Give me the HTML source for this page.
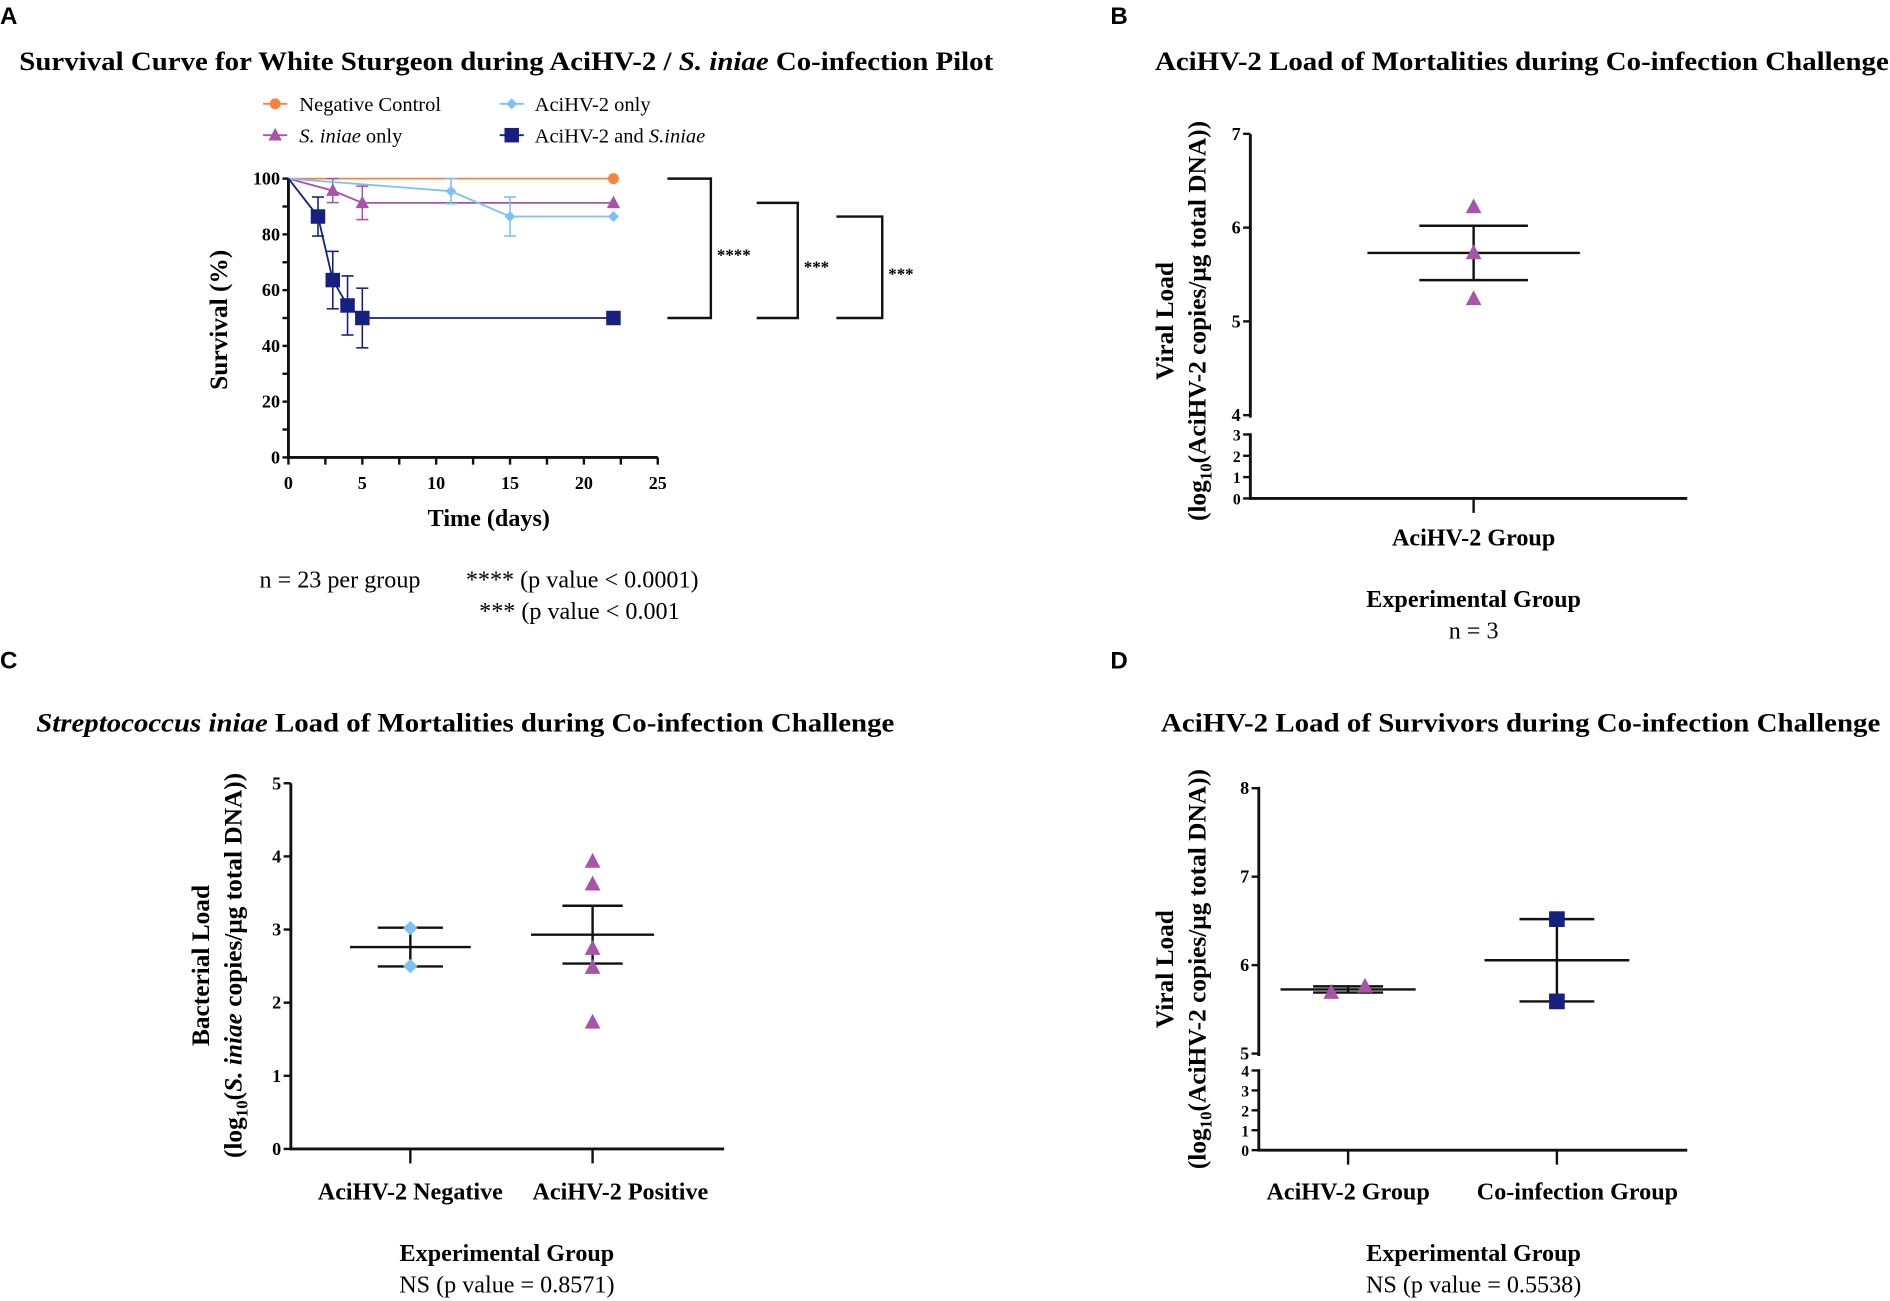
<!DOCTYPE html>
<html><head><meta charset="utf-8">
<style>
html,body{margin:0;padding:0;background:#fff;}
svg{display:block;font-family:"Liberation Serif",serif;}
.t{font-weight:bold;}
.pl{font-family:"Liberation Sans",sans-serif;font-weight:bold;font-size:20px;}
</style></head>
<body>
<svg id="fig" width="1890" height="1301" viewBox="0 0 1566 1078" preserveAspectRatio="none" xmlns="http://www.w3.org/2000/svg">
<rect width="1566" height="1078" fill="#fff"/>
<text class="pl" x="0" y="20">A</text>
<text class="pl" x="920" y="20">B</text>
<text class="pl" x="0" y="554">C</text>
<text class="pl" x="920" y="554">D</text>
<text class="t" x="16" y="58" font-size="22" textLength="807" lengthAdjust="spacingAndGlyphs">Survival Curve for White Sturgeon during AciHV-2 / <tspan font-style="italic">S. iniae</tspan> Co-infection Pilot</text>
<text class="t" x="957" y="58" font-size="22" textLength="608" lengthAdjust="spacingAndGlyphs">AciHV-2 Load of Mortalities during Co-infection Challenge</text>
<text class="t" x="30" y="606" font-size="22" textLength="711" lengthAdjust="spacingAndGlyphs"><tspan font-style="italic">Streptococcus iniae</tspan> Load of Mortalities during Co-infection Challenge</text>
<text class="t" x="962" y="606" font-size="22" textLength="596" lengthAdjust="spacingAndGlyphs">AciHV-2 Load of Survivors during Co-infection Challenge</text>
<g font-size="17">
<text x="248" y="92">Negative Control</text>
<text x="443" y="92">AciHV-2 only</text>
<text x="248" y="118"><tspan font-style="italic">S. iniae</tspan> only</text>
<text x="443" y="118">AciHV-2 and <tspan font-style="italic">S.iniae</tspan></text>
</g>
<text class="t" x="405" y="436" font-size="20" text-anchor="middle">Time (days)</text>
<text class="t" transform="translate(188,265) rotate(-90)" font-size="21" text-anchor="middle">Survival (%)</text>
<g font-size="20">
<text x="215" y="487">n = 23 per group</text>
<text x="386" y="487">**** (p value &lt; 0.0001)</text>
<text x="397" y="513">*** (p value &lt; 0.001</text>
</g>
<text class="t" x="1221" y="452" font-size="20" text-anchor="middle">AciHV-2 Group</text>
<text class="t" x="1221" y="503" font-size="20" text-anchor="middle">Experimental Group</text>
<text x="1221" y="529" font-size="20" text-anchor="middle">n = 3</text>
<text class="t" transform="translate(972,266) rotate(-90)" font-size="21" text-anchor="middle">Viral Load</text>
<text class="t" transform="translate(999,266) rotate(-90)" font-size="21" text-anchor="middle">(log<tspan font-size="14" dy="5">10</tspan><tspan dy="-5">(AciHV-2 copies/μg total DNA))</tspan></text>
<text class="t" x="340" y="994" font-size="20" text-anchor="middle">AciHV-2 Negative</text>
<text class="t" x="514" y="994" font-size="20" text-anchor="middle">AciHV-2 Positive</text>
<text class="t" x="420" y="1045" font-size="20" text-anchor="middle">Experimental Group</text>
<text x="420" y="1071" font-size="20" text-anchor="middle">NS (p value = 0.8571)</text>
<text class="t" transform="translate(173,800) rotate(-90)" font-size="21" text-anchor="middle">Bacterial Load</text>
<text class="t" transform="translate(200,800) rotate(-90)" font-size="21" text-anchor="middle">(log<tspan font-size="14" dy="5">10</tspan><tspan dy="-5">(</tspan><tspan font-style="italic">S. iniae</tspan> copies/μg total DNA))</text>
<text class="t" x="1117" y="994" font-size="20" text-anchor="middle">AciHV-2 Group</text>
<text class="t" x="1307" y="994" font-size="20" text-anchor="middle">Co-infection Group</text>
<text class="t" x="1221" y="1045" font-size="20" text-anchor="middle">Experimental Group</text>
<text x="1221" y="1071" font-size="20" text-anchor="middle">NS (p value = 0.5538)</text>
<text class="t" transform="translate(972,803) rotate(-90)" font-size="21" text-anchor="middle">Viral Load</text>
<text class="t" transform="translate(999,803) rotate(-90)" font-size="21" text-anchor="middle">(log<tspan font-size="14" dy="5">10</tspan><tspan dy="-5">(AciHV-2 copies/μg total DNA))</tspan></text>
<g id="marks"></g>
</svg>
<script>
const daysNeg = [0, 22];
const survNeg = [100, 100];
const daysAci = [0, 11, 15, 22];
const survAci = [100, 95.5, 86.4, 86.4];
const errAci = [0, 4.5, 7, 0];
const daysSin = [0, 3, 5, 22];
const survSin = [100, 95.7, 91.3, 91.3];
const errSin = [0, 4.3, 6, 0];
const daysCo = [0, 2, 3, 4, 5, 22];
const survCo = [100, 86.4, 63.6, 54.5, 50, 50];
const errCo = [0, 7, 10.3, 10.6, 10.7, 0];
const yTicksA = [0, 20, 40, 60, 80, 100];
const xTicksA = [0, 5, 10, 15, 20, 25];
const sigLabels = ["****", "***", "***"];
const viralMort = [6.22, 5.73, 5.24];
const viralMortMean = [5.73];
const viralMortSem = [0.29];
const yTicksBHigh = [4, 5, 6, 7];
const yTicksBLow = [0, 1, 2, 3];
const bactNeg = [3.02, 2.50];
const bactPos = [3.93, 3.62, 2.74, 2.48, 1.73];
const bactMeans = [2.76, 2.93];
const bactSems = [0.265, 0.395];
const yTicksC = [0, 1, 2, 3, 4, 5];
const survAciVals = [5.69, 5.76];
const survCoVals = [6.52, 5.59];
const survMeans = [5.725, 6.055];
const survSems = [0.035, 0.465];
const yTicksDHigh = [5, 6, 7, 8];
const yTicksDLow = [0, 1, 2, 3, 4];

const NS = "http://www.w3.org/2000/svg";
const root = document.getElementById('marks');
function mk(tag, attrs, parent) {
  const e = document.createElementNS(NS, tag);
  for (const k in attrs) e.setAttribute(k, attrs[k]);
  (parent || root).appendChild(e);
  return e;
}
function line(x1, y1, x2, y2, color, w, name) {
  const e = mk('line', {x1, y1, x2, y2, stroke: color, 'stroke-width': w});
  
  
  return e;
}
function txt(x, y, s, size, anchor, name, bold) {
  const e = mk('text', {x, y, 'font-size': size, 'text-anchor': anchor, 'font-weight': bold ? 'bold' : 'normal'});
  e.textContent = s;
  
  
  return e;
}
function marker(type, x, y, s, color, name) {
  let e;
  if (type === 'circle') e = mk('circle', {cx: x, cy: y, r: s / 2, fill: color});
  else if (type === 'square') e = mk('rect', {x: x - s / 2, y: y - s / 2, width: s, height: s, fill: color});
  else if (type === 'diamond') e = mk('polygon', {points: `${x},${y - s / 2} ${x + s / 2},${y} ${x},${y + s / 2} ${x - s / 2},${y}`, fill: color});
  else e = mk('polygon', {points: `${x},${y - s * 0.55} ${x + s / 2},${y + s * 0.4} ${x - s / 2},${y + s * 0.4}`, fill: color});
  
  
  return e;
}
const K = '#111';
const ORANGE = '#f7833f', LBLUE = '#7ec0f7', PURPLE = '#a855a8', NAVY = '#16207f';

const xA = d => 239 + d * 12.24;
const yA = v => 379 - v * 2.31;
line(xA(0), yA(0) + 1.2, xA(0), yA(100), K, 2.4, 'y-axis-a');
line(xA(0) - 1.2, yA(0), xA(25), yA(0), K, 2.4, 'x-axis-a');
for (let v = 0; v <= 100; v += 10) line(xA(0) - 5, yA(v), xA(0), yA(v), K, 2, 'y-tick-a');
yTicksA.forEach(v => txt(xA(0) - 7, yA(v) + 5, String(v), 15, 'end', 'y-tick-label-a', true));
for (let d = 0; d <= 25; d += 2.5) line(xA(d), yA(0), xA(d), yA(0) + 6, K, 2, 'x-tick-a');
xTicksA.forEach(d => txt(xA(d), yA(0) + 26, String(d), 15, 'middle', 'x-tick-label-a', true));
function series(days, surv, err, color, type, size, name) {
  const pts = days.map((d, i) => xA(d) + ',' + yA(surv[i])).join(' ');
  const pl = mk('polyline', {points: pts, fill: 'none', stroke: color, 'stroke-width': 1.5});
  
  
  days.forEach((d, i) => {
    if (err && err[i] > 0) {
      const x = xA(d);
      line(x, yA(surv[i] - err[i]), x, yA(surv[i] + err[i]), color, 1.3, name + '-error-bar');
      line(x - 5, yA(surv[i] + err[i]), x + 5, yA(surv[i] + err[i]), color, 1.3, name + '-error-cap');
      line(x - 5, yA(surv[i] - err[i]), x + 5, yA(surv[i] - err[i]), color, 1.3, name + '-error-cap');
    }
    if (i > 0) marker(type, xA(d), yA(surv[i]), size, color, name + '-point');
  });
}
series(daysNeg, survNeg, null, ORANGE, 'circle', 9, 'negative-control');
series(daysSin, survSin, errSin, PURPLE, 'triangle', 11, 's-iniae-only');
series(daysAci, survAci, errAci, LBLUE, 'diamond', 9, 'acihv2-only');
series(daysCo, survCo, errCo, NAVY, 'square', 12, 'coinfection');
[[218, 86, ORANGE, 'circle', 9], [414, 86, LBLUE, 'diamond', 9], [218, 112, PURPLE, 'triangle', 11], [414, 112, NAVY, 'square', 12]].forEach(m => {
  line(m[0], m[1], m[0] + 20, m[1], m[2], 1.5, 'legend-line');
  marker(m[3], m[0] + 10, m[1], m[4], m[2], 'legend-marker');
});
const brackets = [[553, 589, survNeg[1], survCo[5]], [627, 661, survSin[3], survCo[5]], [693, 731, survAci[3], survCo[5]]];
brackets.forEach((b, i) => {
  const p = mk('polyline', {points: `${b[0]},${yA(b[2])} ${b[1]},${yA(b[2])} ${b[1]},${yA(b[3])} ${b[0]},${yA(b[3])}`, fill: 'none', stroke: K, 'stroke-width': 2});
  
  
  txt(b[1] + 5, (yA(b[2]) + yA(b[3])) / 2 + 10, sigLabels[i], 14, 'start', 'significance-label', true);
});

function meanSem(cx, mean, sem, yf, mhalf, chalf, name) {
  line(cx - mhalf, yf(mean), cx + mhalf, yf(mean), K, 2, name + '-mean-line');
  line(cx, yf(mean - sem), cx, yf(mean + sem), K, 2, name + '-sem-bar');
  line(cx - chalf, yf(mean + sem), cx + chalf, yf(mean + sem), K, 2, name + '-sem-cap');
  line(cx - chalf, yf(mean - sem), cx + chalf, yf(mean - sem), K, 2, name + '-sem-cap');
}

const yB = v => v >= 4 ? 344 - (v - 4) * 77.7 : 413 - v * 17.67;
const axB = 1036;
line(axB, 111, axB, 346, K, 2.4, 'y-axis-b-upper');
line(axB, 359, axB, 414, K, 2.4, 'y-axis-b-lower');
line(axB - 1, 413, 1398, 413, K, 2.4, 'x-axis-b');
yTicksBHigh.concat(yTicksBLow).forEach(v => {
  line(axB - 6, yB(v), axB, yB(v), K, 2, 'y-tick-b');
  txt(axB - 8, yB(v) + 5, String(v), v >= 4 ? 15 : 13, 'end', 'y-tick-label-b', true);
});
line(1221, 413, 1221, 425, K, 2, 'x-tick-b');
meanSem(1221, viralMortMean[0], viralMortSem[0], yB, 88, 45, 'mortality-viral');
viralMort.forEach(v => marker('triangle', 1221, yB(v), 13, PURPLE, 'mortality-viral-point'));

const yC = v => 952 - v * 60.6;
const axC = 241;
line(axC, yC(5), axC, yC(0) + 1, K, 2.4, 'y-axis-c');
line(axC - 1, yC(0), 600, yC(0), K, 2.4, 'x-axis-c');
yTicksC.forEach(v => {
  line(axC - 6, yC(v), axC, yC(v), K, 2, 'y-tick-c');
  txt(axC - 8, yC(v) + 5, String(v), 15, 'end', 'y-tick-label-c', true);
});
[340, 491].forEach(x => line(x, yC(0), x, yC(0) + 12, K, 2, 'x-tick-c'));
meanSem(340, bactMeans[0], bactSems[0], yC, 50, 27, 'bacterial-negative');
meanSem(491, bactMeans[1], bactSems[1], yC, 51, 25, 'bacterial-positive');
bactNeg.forEach(v => marker('diamond', 340, yC(v), 12, LBLUE, 'bacterial-negative-point'));
bactPos.forEach(v => marker('triangle', 491, yC(v), 13, PURPLE, 'bacterial-positive-point'));

const yD = v => v >= 5 ? 873 - (v - 5) * 73.3 : 953 - v * 16.5;
const axD = 1043;
line(axD, 652, axD, 875, K, 2.4, 'y-axis-d-upper');
line(axD, 886, axD, 954, K, 2.4, 'y-axis-d-lower');
line(axD - 1, 953, 1398, 953, K, 2.4, 'x-axis-d');
yTicksDHigh.concat(yTicksDLow).forEach(v => {
  line(axD - 6, yD(v), axD, yD(v), K, 2, 'y-tick-d');
  txt(axD - 8, yD(v) + 5, String(v), v >= 5 ? 15 : 13, 'end', 'y-tick-label-d', true);
});
[1117, 1290].forEach(x => line(x, 953, x, 965, K, 2, 'x-tick-d'));
meanSem(1117, survMeans[0], survSems[0], yD, 56, 29, 'survivor-acihv2');
meanSem(1290, survMeans[1], survSems[1], yD, 60, 31, 'survivor-coinfection');
survAciVals.forEach((v, i) => marker('triangle', 1117 + (i === 0 ? -14 : 14), yD(v), 13, PURPLE, 'survivor-acihv2-point'));
survCoVals.forEach(v => marker('square', 1290, yD(v), 13, NAVY, 'survivor-coinfection-point'));
</script>
</body></html>
